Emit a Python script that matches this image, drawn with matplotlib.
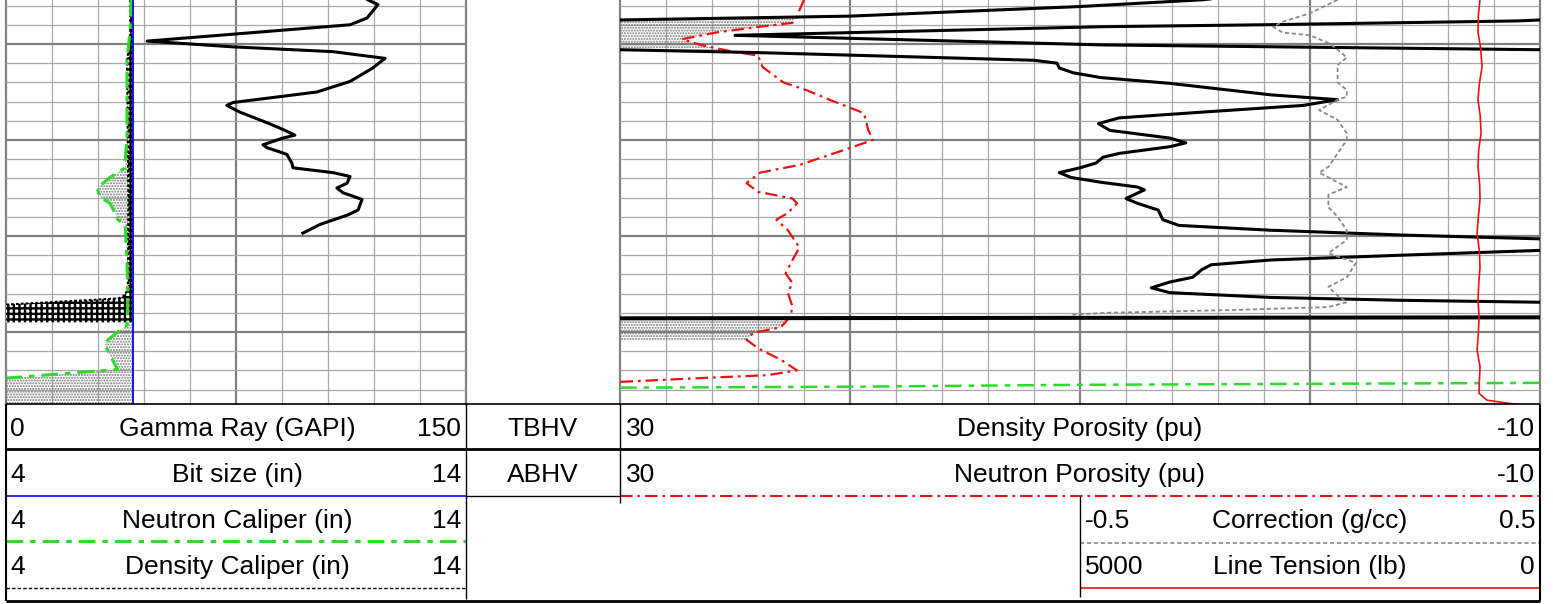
import numpy as np
import matplotlib.pyplot as plt

plt.rcParams['font.family'] = ['Liberation Sans', 'DejaVu Sans']
plt.rcParams['lines.scale_dashes'] = False

TOP, BOT = 5195.42, 5237.5   # depth window (ft)

# Track 1: gamma ray (GAPI)
gr_depth = [5195.4, 5195.9, 5197.3, 5198.0, 5199.7, 5200.3, 5200.8, 5201.5, 5202.5, 5203.9,
            5205.0, 5206.1, 5206.4, 5207.1, 5208.2, 5208.9, 5209.5, 5209.8, 5210.5, 5210.8,
            5211.5, 5212.4, 5212.9, 5213.4, 5213.8, 5214.5, 5215.0, 5215.5, 5216.0, 5216.2,
            5217.3, 5217.8, 5218.8, 5219.7]
gr = [118.0, 121.3, 117.7, 112.2, 46.0, 74.0, 106.6, 123.6, 119.6, 112.2,
      101.4, 74.0, 72.0, 76.3, 85.1, 90.3, 94.2, 90.3, 83.8, 85.1,
      91.6, 93.2, 93.6, 106.6, 112.2, 111.2, 107.9, 109.9, 114.4, 116.1,
      114.8, 111.5, 102.4, 96.8]

# Track 1: bit size, neutron caliper, density caliper (in)
bit_depth = [5195.0, 5237.6]
bit = [6.75, 6.75]

ncal_depth = [5195.4, 5198.5, 5201.7, 5210.0, 5212.1, 5212.9, 5213.9, 5215.0, 5215.9, 5216.6,
              5217.6, 5218.3, 5218.8, 5222.5, 5226.7, 5229.3, 5229.8, 5230.8, 5231.3, 5232.4,
              5233.4, 5233.9, 5234.8, 5235.2, 5237.6]
ncal = [6.72, 6.70, 6.63, 6.63, 6.59, 6.59, 6.26, 5.98, 6.04, 6.26,
        6.37, 6.43, 6.59, 6.63, 6.65, 6.63, 6.48, 6.22, 6.15, 6.26,
        6.37, 6.43, 4.02, 3.5, 3.5]

dcal_depth = [5195.4, 5199.6, 5201.7, 5205.8, 5216.2, 5225.6, 5226.3, 5226.5, 5227.2, 5229.0]
dcal = [6.70, 6.70, 6.63, 6.64, 6.66, 6.65, 6.55, 6.45, 3.8, 3.8]

# Track 3: density porosity (pu), neutron porosity (pu)
dphi_depth = [5195.0, 5195.4, 5196.1, 5197.1, 5197.5, 5197.6, 5198.0, 5198.2, 5199.1, 5200.1,
              5200.6, 5200.9, 5201.4, 5201.7, 5202.0, 5202.5, 5203.0, 5203.5, 5204.1, 5205.3,
              5205.8, 5206.4, 5207.1, 5207.7, 5208.3, 5209.0, 5209.8, 5210.3, 5210.7, 5211.4,
              5211.8, 5212.4, 5212.9, 5213.4, 5213.9, 5214.4, 5214.9, 5215.2, 5216.1, 5216.6,
              5217.3, 5218.3, 5218.9, 5219.4, 5219.9, 5220.3, 5220.7, 5221.0, 5221.5, 5222.0,
              5222.5, 5223.0, 5223.5, 5224.3, 5224.8, 5225.4, 5225.9, 5226.4, 5226.7, 5226.9,
              5227.4, 5228.3, 5228.7, 5230.9]
dphi = [3.0, 4.7, 10.0, 20.0, 30.0, 31.0, 42.0, 49.0, 65.0, 49.0,
        30.0, 24.0, 16.4, 12.0, 11.0, 10.9, 10.3, 9.1, 6.1, 1.7,
        -1.2, 0.3, 4.7, 8.3, 9.2, 8.7, 6.1, 5.4, 6.1, 8.3,
        9.0, 9.3, 10.0, 10.9, 10.4, 9.1, 7.5, 7.2, 8.0, 7.5,
        6.6, 6.4, 5.7, 1.7, -4.0, -10.0, -20.0, -20.0, -10.0, -4.0,
        1.7, 4.3, 4.7, 5.1, 6.1, 6.9, 6.1, 1.7, -4.0, -10.0,
        -25.0, -60.0, 100.0, 100.0]

nphi_depth = [5195.4, 5196.5, 5197.2, 5197.8, 5198.2, 5198.8, 5199.5, 5200.1, 5200.8, 5201.2,
              5202.4, 5204.0, 5204.8, 5205.8, 5207.2, 5209.0, 5210.0, 5211.4, 5212.6, 5213.4,
              5214.5, 5215.4, 5216.1, 5216.6, 5217.6, 5218.3, 5219.4, 5221.2, 5222.5, 5223.9,
              5224.9, 5225.9, 5227.4, 5228.4, 5229.5, 5230.1, 5230.8, 5231.7, 5232.9, 5234.0,
              5234.5, 5234.8, 5235.2, 5236.6]
nphi = [22.0, 22.2, 22.3, 22.5, 23.9, 25.8, 27.3, 26.5, 25.1, 24.0,
        23.8, 22.9, 21.9, 20.9, 19.4, 19.2, 19.0, 20.7, 22.2, 23.9,
        24.5, 24.0, 22.5, 22.3, 22.7, 23.2, 22.7, 22.2, 22.5, 22.8,
        22.5, 22.7, 22.5, 22.6, 23.0, 24.2, 24.5, 24.0, 23.0, 22.3,
        23.6, 26.5, 30.0, 32.0]

# Track 3: density correction (g/cc), line tension (lb)
corr_depth = [5195.4, 5196.8, 5197.7, 5198.2, 5198.8, 5199.1, 5199.9, 5200.6, 5201.4, 5202.2,
              5203.0, 5204.0, 5204.8, 5205.5, 5205.8, 5206.9, 5207.9, 5209.3, 5210.0, 5211.4,
              5212.8, 5213.4, 5214.4, 5214.9, 5215.7, 5217.0, 5218.0, 5219.4, 5220.4, 5221.8,
              5222.8, 5224.3, 5225.3, 5226.2, 5226.9, 5227.4, 5227.7, 5228.0, 5228.2]
corr = [0.28, 0.25, 0.22, 0.21, 0.22, 0.25, 0.27, 0.28, 0.29, 0.28,
        0.28, 0.28, 0.29, 0.29, 0.28, 0.26, 0.28, 0.29, 0.29, 0.28,
        0.27, 0.26, 0.28, 0.29, 0.27, 0.27, 0.28, 0.29, 0.29, 0.27,
        0.30, 0.29, 0.27, 0.28, 0.29, 0.27, 0.17, 0.03, -0.01]

tens_depth = [5195.4, 5197.0, 5198.8, 5200.5, 5202.4, 5204.2, 5205.8, 5207.5, 5209.3, 5211.0,
              5212.8, 5214.6, 5216.2, 5218.0, 5219.7, 5221.5, 5223.2, 5225.0, 5226.7, 5228.4,
              5230.1, 5231.9, 5233.6, 5235.3, 5236.4, 5237.1, 5237.4, 5237.6]
tens = [326, 335, 337, 322, 315, 330, 337, 325, 320, 333,
        337, 328, 326, 335, 342, 330, 326, 333, 337, 331,
        335, 342, 326, 330, 331, 288, 179, 100]

# green dash-dot flag across track 3
flag_depth = [5235.8, 5235.7, 5235.5, 5235.3]
flag = [30, 20, 10, -10]

W, H = 1553, 604
fig = plt.figure(figsize=(W / 100, H / 100), dpi=100)


def box(x0, y0, x1, y1):
    return [x0 / W, 1 - y1 / H, (x1 - x0) / W, (y1 - y0) / H]


def bare(ax):
    ax.set_xticks([])
    ax.set_yticks([])
    for s in ax.spines.values():
        s.set_visible(False)


def draw_grid(ax, xs, major_every):
    for i, x in enumerate(xs):
        major = i % major_every == 0
        ax.axvline(x, color='#808080' if major else '#a8a8a8', lw=1.6 if major else 0.9,
                   zorder=0.5, clip_on=False)
    for d in np.arange(5196, 5238, 2):
        major = d % 10 == 0
        ax.axhline(d, color='#808080' if major else '#a8a8a8', lw=1.6 if major else 0.9,
                   zorder=0.5)


green = '#2bdc2b'
red = '#ee1111'
nd_dash = (0, (9, 3.5, 2, 3.5))
gn_dash = (0, (12, 5, 4, 5))

# ---- track 1 ----
ax1 = fig.add_axes(box(6, 0, 466, 404))
ax1.set_xlim(0, 150)
ax1.set_ylim(BOT, TOP)
bare(ax1)
draw_grid(ax1, np.arange(0, 151, 15), 5)
ax1.plot(gr, gr_depth, color='black', lw=2.2, zorder=3)

ax1b = ax1.twiny()
ax1b.set_xlim(4, 14)
bare(ax1b)
zz = np.linspace(bit_depth[0], bit_depth[-1], 3000)
nc = np.interp(zz, ncal_depth, ncal)
bs = np.interp(zz, bit_depth, bit)
ax1b.fill_betweenx(zz, nc, bs, where=nc < bs, interpolate=True, facecolor='none',
                   edgecolor='#777777', hatch='......', lw=0)
zd = np.linspace(dcal_depth[0], dcal_depth[-1], 2000)
dc = np.interp(zd, dcal_depth, dcal)
bd = np.interp(zd, bit_depth, bit)
with plt.rc_context({'hatch.linewidth': 1.7}):
    chk = ax1b.fill_betweenx(zd, dc, bd, where=dc < bd, interpolate=True, facecolor='white',
                             edgecolor='black', hatch='+++', lw=0)
if hasattr(chk, 'set_hatch_linewidth'):
    chk.set_hatch_linewidth(1.7)
ax1b.plot(dcal, dcal_depth, color='black', lw=1.5, ls=(0, (2, 1.5)))
ax1b.plot(ncal, ncal_depth, color=green, lw=2.2, ls=gn_dash)
ax1b.plot(bit, bit_depth, color='#0000ff', lw=1.3)

# ---- track 3 ----
ax3 = fig.add_axes(box(620, 0, 1540, 404))
ax3.set_xlim(30, -10)
ax3.set_ylim(BOT, TOP)
bare(ax3)
draw_grid(ax3, np.arange(30, -11, -2), 5)
zp = np.linspace(dphi_depth[0], dphi_depth[-1], 4000)
dp = np.interp(zp, dphi_depth, dphi)
npv = np.interp(zp, nphi_depth, nphi)
ax3.fill_betweenx(zp, np.minimum(dp, 30), npv, where=dp > npv, interpolate=True,
                  facecolor='none', edgecolor='#777777', hatch='......', lw=0, zorder=1)
ax3.plot(nphi, nphi_depth, color=red, lw=1.6, ls=nd_dash, zorder=2)
ax3.plot(dphi, dphi_depth, color='black', lw=2.2, zorder=3)
ax3.plot(np.array(dphi) - 40, dphi_depth, color='black', lw=2.2, zorder=3)  # wrapped backup
ax3.plot(flag, flag_depth, color=green, lw=1.8, ls=gn_dash, zorder=2)

ax3c = ax3.twiny()
ax3c.set_xlim(-0.5, 0.5)
bare(ax3c)
ax3c.plot(corr, corr_depth, color='#888888', lw=1.3, ls=(0, (3, 2)))

ax3t = ax3.twiny()
ax3t.set_xlim(5000, 0)
bare(ax3t)
ax3t.plot(tens, tens_depth, color=red, lw=1.2)

# ---- header ----
hdr = fig.add_axes([0, 0, 1, 1])
hdr.set_xlim(0, W)
hdr.set_ylim(H, 0)
hdr.axis('off')


def seg(x0, x1, y0, y1, **kw):
    hdr.plot([x0, x1], [y0, y1], solid_capstyle='butt', **kw)


seg(6, 1540, 404, 404, color='black', lw=1.2)
seg(6, 1540, 449, 449, color='black', lw=2.0)
seg(6, 466, 496, 496, color='#0000ff', lw=1.2)
seg(466, 620, 496, 496, color='black', lw=1.0)
seg(620, 1540, 496, 496, color=red, lw=1.5, ls=nd_dash)
seg(6, 466, 541, 541, color=green, lw=2.2, ls=gn_dash)
seg(1080, 1540, 543, 543, color='#888888', lw=1.2, ls=(0, (3, 2)))
seg(6, 466, 588, 588, color='black', lw=1.0, ls=(0, (2.5, 1.5)))
seg(1080, 1540, 588, 588, color=red, lw=1.2)
seg(6, 1540, 601, 601, color='black', lw=2.0)
seg(6, 6, 404, 601, color='black', lw=1.5)
seg(466, 466, 404, 599, color='black', lw=1.0)
seg(620, 620, 404, 503, color='black', lw=1.0)
seg(1080, 1080, 496, 597, color='black', lw=1.0)
seg(1540, 1540, 404, 601, color='black', lw=1.5)

rows = [429, 475, 521, 567]
fs = 19
track1_hdr = [('0', 'Gamma Ray (GAPI)', '150'), ('4', 'Bit size (in)', '14'),
              ('4', 'Neutron Caliper (in)', '14'), ('4', 'Density Caliper (in)', '14')]
for y, (lo, name, hi) in zip(rows, track1_hdr):
    hdr.text(10, y, lo, ha='left', va='center', fontsize=fs)
    hdr.text(237, y, name, ha='center', va='center', fontsize=fs)
    hdr.text(461, y, hi, ha='right', va='center', fontsize=fs)

hdr.text(543, rows[0], 'TBHV', ha='center', va='center', fontsize=fs)
hdr.text(543, rows[1], 'ABHV', ha='center', va='center', fontsize=fs)

track3_hdr = [('30', 'Density Porosity (pu)', '-10', 626, 1080),
              ('30', 'Neutron Porosity (pu)', '-10', 626, 1080),
              ('-0.5', 'Correction (g/cc)', '0.5', 1085, 1310),
              ('5000', 'Line Tension (lb)', '0', 1085, 1310)]
for y, (lo, name, hi, xl, xc) in zip(rows, track3_hdr):
    hdr.text(xl, y, lo, ha='left', va='center', fontsize=fs)
    hdr.text(xc, y, name, ha='center', va='center', fontsize=fs)
    hdr.text(1535, y, hi, ha='right', va='center', fontsize=fs)

fig.savefig('out.png', dpi=100)
